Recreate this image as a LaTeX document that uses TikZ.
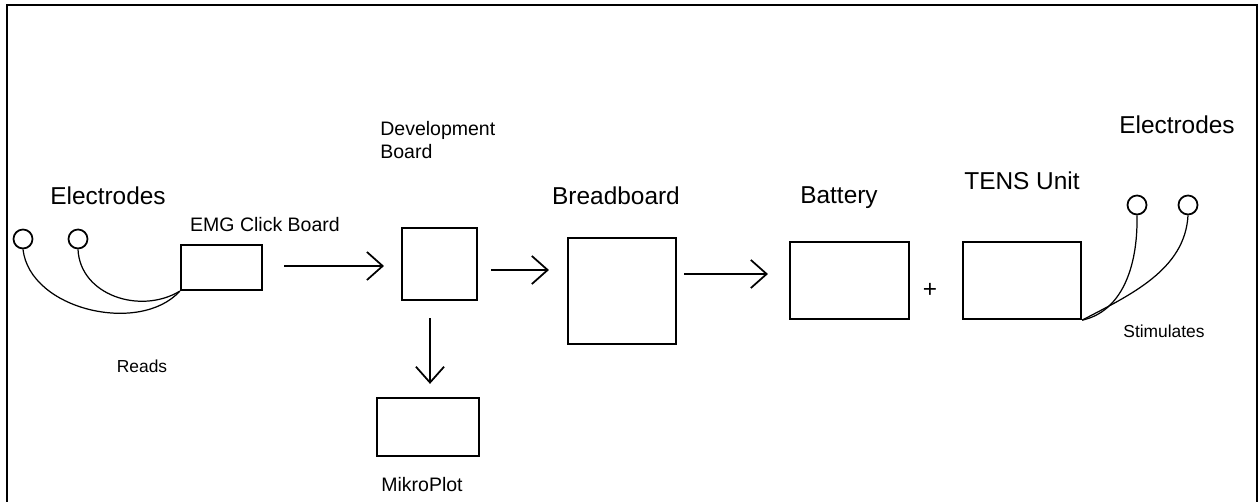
\documentclass[tikz,border=0pt]{standalone}
\usepackage{fontspec}
\setmainfont{Liberation Sans}
\usetikzlibrary{arrows.meta}

\tikzset{
	blk/.style 2 args={draw, line width=1.3pt, inner sep=0pt, minimum width=#1*0.02cm, minimum height=#2*0.02cm},
	pad/.style={draw, circle, line width=1pt, inner sep=0pt, minimum size=19*0.02cm},
	wire/.style={line width=0.7pt},
	flow/.style={line width=1pt, -{Straight Barb[length=9pt, width=16pt, line width=1pt]}},
	big/.style={font=\fontsize{13.9}{16}\selectfont, inner sep=0pt, anchor=base},
	mid/.style={font=\fontsize{11.1}{13.6}\selectfont, inner sep=0pt, anchor=base},
	small/.style={font=\fontsize{9.9}{12}\selectfont, inner sep=0pt, anchor=base}
}

\begin{document}
\begin{tikzpicture}[x=0.02cm, y=-0.02cm]
			%%%%% START %%%%%
			
			\useasboundingbox (0, 0) rectangle (1260, 502);
			\draw[line width=1.6pt] (7, 502) -- (7, 5) -- (1257, 5) -- (1257, 502);
			
			% reading side
			\node[pad] (el1) at (23, 239) {};
			\node[pad] (el2) at (78, 239) {};
			\node[big] (lel) at (108, 205) {Electrodes};
			\node[blk={81}{45}] (emg) at (221.5, 267.5) {};
			\node[mid] (lemg) at (265, 232) {EMG Click Board};
			\node[small] (lreads) at (142, 373) {Reads};
			
			\draw[wire] (el1.south) .. controls (30, 310) and (140, 335) .. (emg.south west);
			\draw[wire] (el2.south) .. controls (80, 295) and (140, 315) .. (emg.south west);
			
			% controller
			\node[blk={75}{72}] (dev) at (439.5, 264) {};
			\node[mid, anchor=base west, align=left] (ldev) at (380, 159) {Development\\Board};
			\node[blk={102}{58}] (plot) at (428, 427) {};
			\node[mid] (lplot) at (422, 492) {MikroPlot};
			
			\node[blk={108}{106}] (bread) at (622, 291) {};
			\node[big] (lbread) at (616, 205) {Breadboard};
			
			% stimulation side
			\node[blk={119}{77}] (batt) at (849.5, 280.5) {};
			\node[big] (lbatt) at (839, 204) {Battery};
			\node[big, anchor=center] (plus) at (930, 290) {+};
			\node[blk={118}{77}] (tens) at (1022, 280.5) {};
			\node[big] (ltens) at (1022, 190) {TENS Unit};
			
			\node[pad] (ep1) at (1137, 205) {};
			\node[pad] (ep2) at (1188, 205) {};
			\node[big] (rel) at (1177, 134) {Electrodes};
			\node[small] (lstim) at (1164, 338) {Stimulates};
			
			\draw[wire] (tens.south east) .. controls (1120, 312) and (1138, 270) .. (ep1.south);
			\draw[wire] (tens.south east) .. controls (1130, 295) and (1185, 270) .. (ep2.south);
			
			% signal path
			\draw[flow, shorten <=11.9pt, shorten >=9.6pt] (emg.east |- 0,266) -- (dev.west |- 0,266);
			\draw[flow, shorten <=7.4pt, shorten >=10.2pt] (dev.east |- 0,270) -- (bread.west |- 0,270);
			\draw[flow, shorten <=9.6pt, shorten >=7.4pt] (dev.south -| 430,0) -- (plot.north -| 430,0);
			\draw[flow, shorten <=4pt, shorten >=11.9pt] (bread.east |- 0,274) -- (batt.west |- 0,274);
			
			%%%%% END %%%%%
\end{tikzpicture}
\end{document}
